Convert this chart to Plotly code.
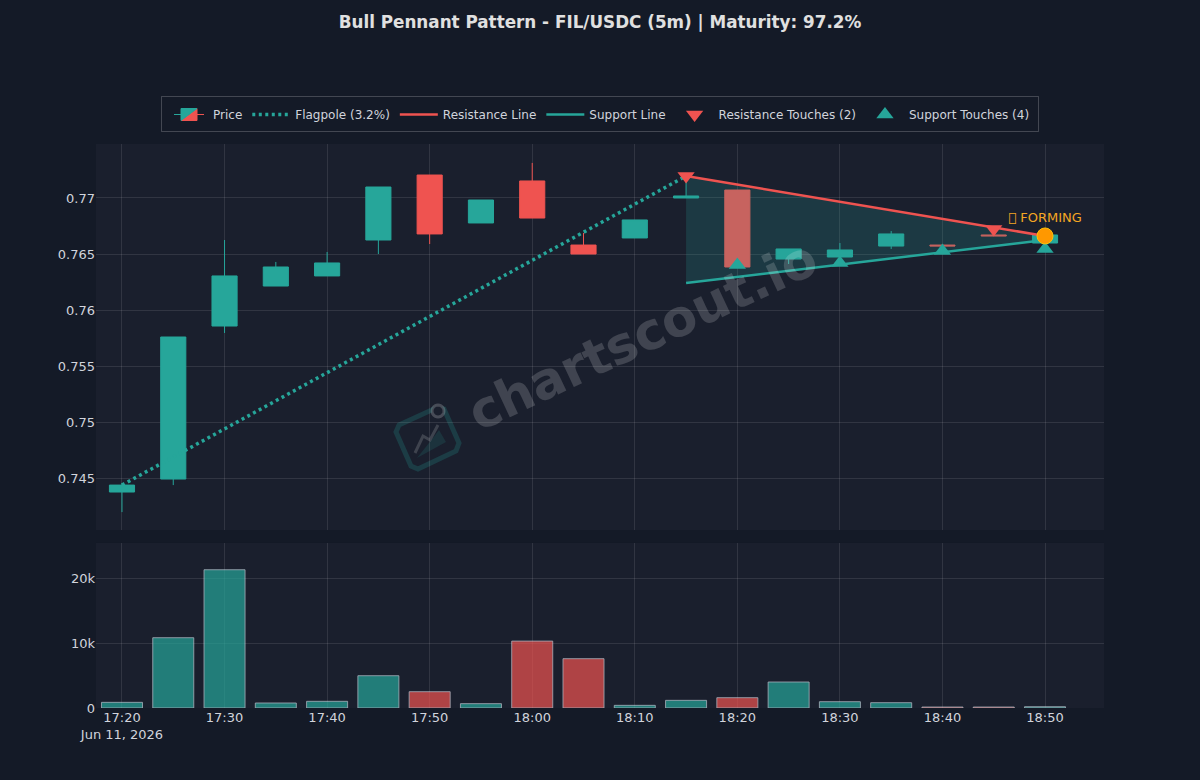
import math
import plotly.graph_objects as go
from plotly.subplots import make_subplots

# velas de 5 minutos
times = ['2026-06-11 17:20', '2026-06-11 17:25', '2026-06-11 17:30', '2026-06-11 17:35',
         '2026-06-11 17:40', '2026-06-11 17:45', '2026-06-11 17:50', '2026-06-11 17:55',
         '2026-06-11 18:00', '2026-06-11 18:05', '2026-06-11 18:10', '2026-06-11 18:15',
         '2026-06-11 18:20', '2026-06-11 18:25', '2026-06-11 18:30', '2026-06-11 18:35',
         '2026-06-11 18:40', '2026-06-11 18:45', '2026-06-11 18:50']
opens = [0.74375, 0.74491, 0.75857, 0.76214, 0.76304, 0.76625, 0.77205, 0.76777, 0.77152, 0.7658,
         0.76643, 0.77, 0.77071, 0.76455, 0.76473, 0.76571, 0.7658, 0.7667, 0.76598]
closes = [0.74437, 0.75759, 0.76304, 0.76384, 0.7642, 0.77098, 0.76679, 0.76982, 0.76821, 0.765,
          0.76804, 0.77018, 0.76384, 0.76545, 0.76536, 0.76679, 0.76572, 0.76662, 0.7667]
highs = [0.74455, 0.75759, 0.76625, 0.76429, 0.76518, 0.77098, 0.77205, 0.76982, 0.77313, 0.76688,
         0.76804, 0.77196, 0.77071, 0.76545, 0.76598, 0.76705, 0.7658, 0.7667, 0.7667]
lows = [0.74196, 0.74437, 0.75795, 0.76214, 0.76304, 0.765, 0.76589, 0.76777, 0.76821, 0.765,
        0.76643, 0.77, 0.76384, 0.76411, 0.76473, 0.76545, 0.76572, 0.76662, 0.76598]
volumes = [870, 10820, 21280, 770, 1030, 4970, 2510, 670, 10300, 7590,
           410, 1180, 1590, 4000, 970, 820, 150, 150, 200]

# lineas del patron
pole_x = ['2026-06-11 17:20', '2026-06-11 18:15']
pole_y = [0.74437, 0.77196]
res_x = ['2026-06-11 18:15', '2026-06-11 18:50']
res_y = [0.77196, 0.76661]
sup_x = ['2026-06-11 18:15', '2026-06-11 18:50']
sup_y = [0.76241, 0.76625]
res_touch_x = ['2026-06-11 18:15', '2026-06-11 18:45']
res_touch_y = [0.77196, 0.76723]
sup_touch_x = ['2026-06-11 18:20', '2026-06-11 18:30', '2026-06-11 18:40', '2026-06-11 18:50']
sup_touch_y = [0.76402, 0.7642, 0.76527, 0.76545]
forming_x = ['2026-06-11 18:50']
forming_y = [0.76661]

GREEN = '#26a69a'
RED = '#ef5350'
PAPER = '#141a27'
PLOT = '#1a1f2d'
GRID = 'rgba(255,255,255,0.1)'
TEXT = '#d1d4dc'

bar_colors = [GREEN if c >= o else RED for o, c in zip(opens, closes)]

fig = make_subplots(rows=2, cols=1, shared_xaxes=True, vertical_spacing=0.023,
                    row_heights=[0.7, 0.3])

fig.add_trace(go.Candlestick(x=times, open=opens, high=highs, low=lows, close=closes, name='Price',
                             increasing=dict(line=dict(color=GREEN, width=1), fillcolor=GREEN),
                             decreasing=dict(line=dict(color=RED, width=1), fillcolor=RED)), row=1, col=1)
fig.add_trace(go.Scatter(x=pole_x, y=pole_y, mode='lines', name='Flagpole (3.2%)',
                         line=dict(color=GREEN, width=3.5, dash='3px,3.5px')), row=1, col=1)
# relleno del banderin
fig.add_trace(go.Scatter(x=res_x + sup_x[::-1], y=res_y + sup_y[::-1], mode='lines', fill='toself',
                         fillcolor='rgba(38,166,154,0.2)', line=dict(width=0),
                         showlegend=False, hoverinfo='skip'), row=1, col=1)
fig.add_trace(go.Scatter(x=res_x, y=res_y, mode='lines', name='Resistance Line',
                         line=dict(color=RED, width=2.5)), row=1, col=1)
fig.add_trace(go.Scatter(x=sup_x, y=sup_y, mode='lines', name='Support Line',
                         line=dict(color=GREEN, width=2.5)), row=1, col=1)
fig.add_trace(go.Scatter(x=res_touch_x, y=res_touch_y, mode='markers', name='Resistance Touches (2)',
                         marker=dict(symbol='triangle-down', size=15, color=RED)), row=1, col=1)
fig.add_trace(go.Scatter(x=sup_touch_x, y=sup_touch_y, mode='markers', name='Support Touches (4)',
                         marker=dict(symbol='triangle-up', size=15, color=GREEN)), row=1, col=1)
fig.add_trace(go.Scatter(x=forming_x, y=forming_y, mode='markers+text', text=['\ue000 FORMING'],
                         textposition='top center', textfont=dict(color='#f5a623', size=13),
                         marker=dict(size=16, color='#ff9800', line=dict(color='#ffc107', width=1)),
                         showlegend=False), row=1, col=1)

fig.add_trace(go.Bar(x=times, y=volumes, marker=dict(color=bar_colors, line=dict(color='#E5ECF6', width=0.8)),
                     opacity=0.7, showlegend=False), row=2, col=1)


# marca de agua, en pixeles de la pagina
def px_xy(px, py):
    return (px - 96) / 1008, 1 - (py - 144) / 564


def path(points, close=False):
    s = ''
    for i, (px, py) in enumerate(points):
        x, y = px_xy(px, py)
        s += ('M' if i == 0 else 'L') + f'{x:.5f},{y:.5f} '
    return s + ('Z' if close else '')


def circle(cx, cy, r):
    return [(cx + r * math.cos(a * math.pi / 12), cy + r * math.sin(a * math.pi / 12)) for a in range(24)]


logo_box = [(399, 425), (436, 408), (444, 409), (459, 443), (456, 451), (418, 469), (411, 466), (396, 432)]
logo_area = [(417, 458), (446, 442), (439, 430), (429, 443)]
logo_zig = [(415, 453), (423, 436), (430, 440), (438, 425)]
wm_shapes = [
    dict(path=path(logo_box, True), line=dict(color='rgba(38,166,154,0.22)', width=5)),
    dict(path=path(logo_area, True), fillcolor='rgba(38,166,154,0.15)', line=dict(width=0)),
    dict(path=path(logo_zig), line=dict(color='rgba(255,255,255,0.16)', width=3)),
    dict(path=path(circle(438, 411, 6), True), fillcolor=PLOT, line=dict(color='rgba(255,255,255,0.2)', width=3)),
]
for s in wm_shapes:
    fig.add_shape(type='path', xref='paper', yref='paper', layer='below', **s)

# marco de la leyenda
fig.add_shape(type='rect', xref='paper', yref='paper',
              x0=px_xy(161.5, 96)[0], y0=px_xy(161.5, 96.5)[1], x1=px_xy(1038.5, 132)[0], y1=px_xy(1038.5, 131.5)[1],
              line=dict(color='rgba(255,255,255,0.2)', width=1))

fig.add_annotation(text='<b>chartscout.io</b>', xref='paper', yref='paper', x=px_xy(642, 335)[0], y=px_xy(642, 335)[1],
                   showarrow=False, textangle=-25.2,
                   font=dict(size=51, color='rgba(255,255,255,0.17)'))

fig.update_layout(
    title=dict(text='<b>Bull Pennant Pattern - FIL/USDC (5m) | Maturity: 97.2%</b>', x=0.5, y=0.972,
               xanchor='center', yanchor='middle', font=dict(size=16.8, color='#e0e0e0')),
    width=1200, height=780,
    margin=dict(l=96, r=96, t=144, b=72),
    paper_bgcolor=PAPER, plot_bgcolor=PLOT,
    font=dict(family='DejaVu Sans', size=13, color=TEXT),
    legend=dict(orientation='h', x=0.5, xanchor='center', y=px_xy(0, 114.5)[1], yanchor='middle',
                bgcolor='rgba(0,0,0,0)', borderwidth=0, itemwidth=38,
                font=dict(size=12)),
    hovermode='x unified', bargap=0.2,
)
x_range = ['2026-06-11 17:17:28', '2026-06-11 18:55:45']
fig.update_xaxes(gridcolor=GRID, zeroline=False, showline=False, range=x_range, rangeslider_visible=False)
fig.update_yaxes(gridcolor=GRID, zeroline=False, showline=False)
fig.update_yaxes(range=[0.74036, 0.77482], domain=[0.3156, 1], row=1, col=1)
fig.update_yaxes(range=[0, 25400], domain=[0, 0.2926], dtick=10000, row=2, col=1)

fig.write_html("out.html", config={'displayModeBar': False}, post_script="document.body.style.margin='0';")
